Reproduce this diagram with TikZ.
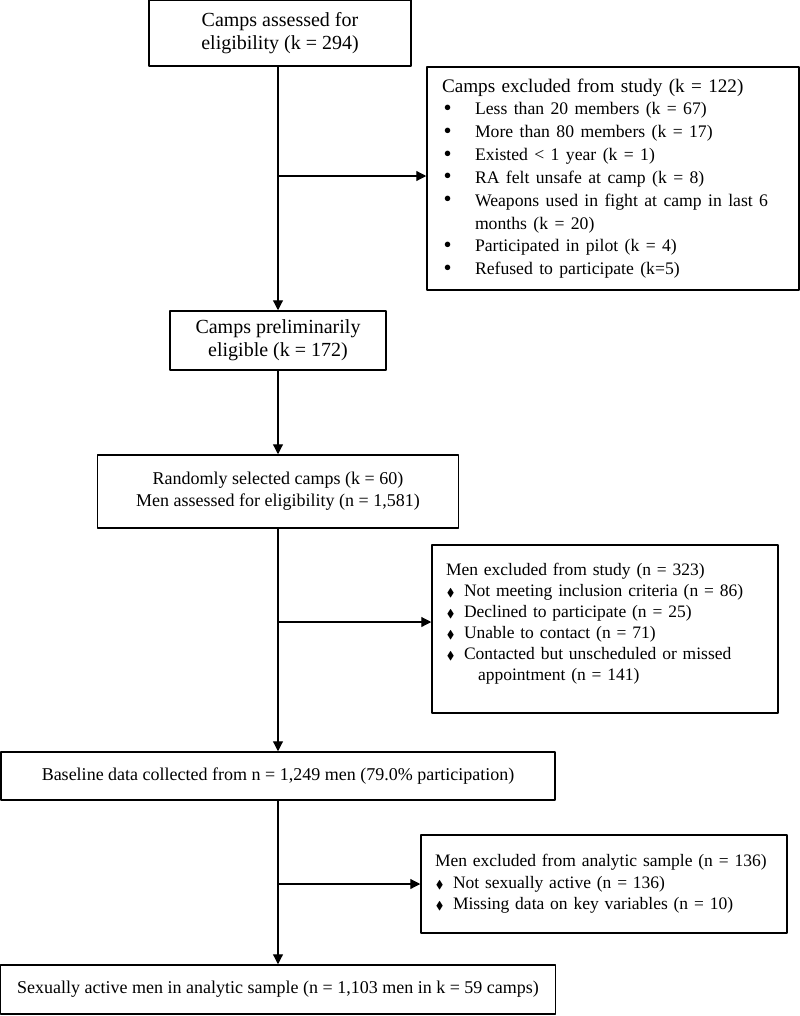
\documentclass[tikz,border=0pt]{standalone}
\usepackage{fontspec}
\setmainfont{Liberation Serif}
\usepackage{amssymb}
\usetikzlibrary{arrows.meta}
\newcommand{\bul}{\makebox[19.8pt][l]{\hspace{1pt}\raisebox{-0.3pt}{\scalebox{1.3}{\textbullet}}}}
\newcommand{\dia}{\makebox[10.8pt][l]{\hspace{0.5pt}\scalebox{0.65}{$\blacklozenge$}}}
\begin{document}
\begin{tikzpicture}[x=0.6pt, y=-0.6pt, line width=0.7pt, line join=round, >={Triangle[length=6pt,width=6pt]},
	box/.style={draw, line width=0.9pt, inner sep=0pt, align=center},
	big/.style={font=\fontsize{12}{13.8}\selectfont},
	small/.style={font=\fontsize{10.8}{13}\selectfont},
	list/.style={align=left, inner xsep=8.4pt}]
	\useasboundingbox (0,0) rectangle (800,1016);
	% main column
	\node[box,big,minimum width=157.2pt,minimum height=39.6pt] (top) at (280,33) {Camps assessed for\\eligibility (k = 294)};
	\node[box,big,minimum width=129.6pt,minimum height=35.4pt] (elig) at (278,340.5) {Camps preliminarily\\eligible (k = 172)};
	\node[box,small,minimum width=216.6pt,minimum height=43.8pt] (rand) at (278,491.5) {Randomly selected camps (k = 60)\\Men assessed for eligibility (n = 1,581)};
	\node[box,small,minimum width=332.4pt,minimum height=28.8pt] (base) at (278,776) {Baseline data collected from n = 1,249 men (79.0\% participation)};
	\node[box,small,minimum width=333pt,minimum height=29.4pt] (final) at (278,989.5) {Sexually active men in analytic sample (n = 1,103 men in k = 59 camps)};
	% exclusions
	\node[box,font=\fontsize{11.5}{13.7}\selectfont,list,inner xsep=9pt,text width=205.2pt,minimum width=223.2pt,minimum height=133.8pt] (excl1) at (613,178.5) {Camps excluded from study (k = 122)\\
		\fontsize{10.6}{13.7}\selectfont
		\bul Less than 20 members (k = 67)\\
		\bul More than 80 members (k = 17)\\
		\bul Existed < 1 year (k = 1)\\
		\bul RA felt unsafe at camp (k = 8)\\
		\bul Weapons used in fight at camp in last 6\\
		\hspace*{19.8pt}months (k = 20)\\
		\bul Participated in pilot (k = 4)\\
		\bul Refused to participate (k=5)};
	\node[box,font=\fontsize{10.5}{12.6}\selectfont,list,text width=190.8pt,minimum width=207.6pt,minimum height=100.8pt] (excl2) at (605,629) {Men excluded from study (n = 323)\\
		\dia Not meeting inclusion criteria (n = 86)\\
		\dia Declined to participate (n = 25)\\
		\dia Unable to contact (n = 71)\\
		\dia Contacted but unscheduled or missed\\
		\hspace*{19.2pt}appointment (n = 141)\\[-4.2pt]\mbox{}};
	\node[box,font=\fontsize{10.5}{12.9}\selectfont,list,text width=202.8pt,minimum width=219.6pt,minimum height=58.8pt] (excl3) at (604,884) {Men excluded from analytic sample (n = 136)\\
		\dia Not sexually active (n = 136)\\
		\dia Missing data on key variables (n = 10)};
	% arrows
	\draw[->] (top.south -| elig.north) -- (elig.north);
	\draw[->] (elig) -- (rand);
	\draw[->] (rand) -- (base);
	\draw[->] (base) -- (final);
	\coordinate (b1) at (278,176);
	\draw[->] (b1) -- (b1 -| excl1.west);
	\coordinate (b2) at (278,622);
	\draw[->] (b2) -- (b2 -| excl2.west);
	\draw[->] (excl3.west -| base.north) -- (excl3.west);
\end{tikzpicture}
\end{document}
